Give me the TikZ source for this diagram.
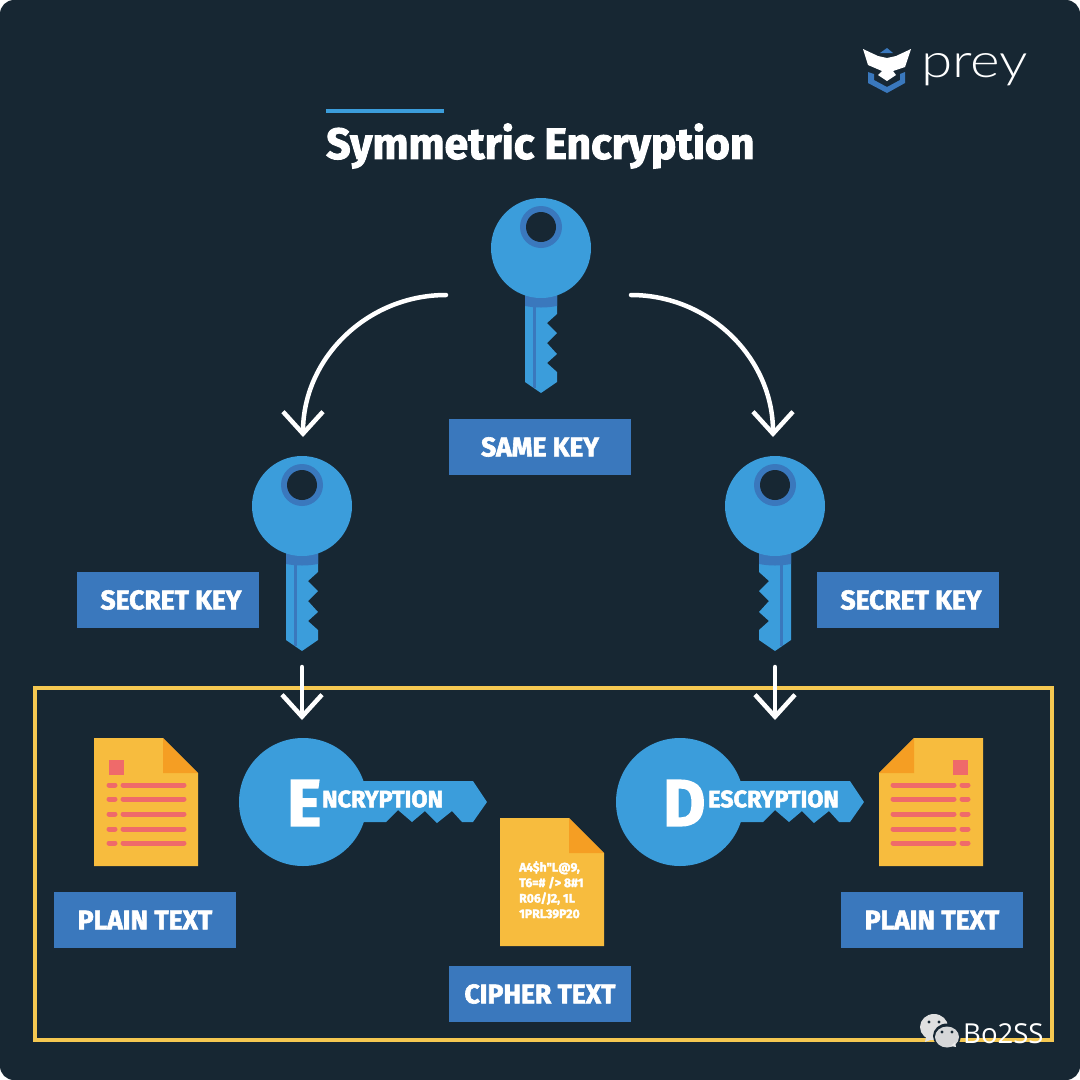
\documentclass[tikz,border=0pt]{standalone}
\usepackage{fontspec}
\usetikzlibrary{arrows.meta}
\setmainfont{Fira Sans}
\newfontfamily\headfont[FakeStretch=0.98,FakeBold=2.2]{Fira Sans Bold}
\newfontfamily\thinfont{Lato Light}
\newfontfamily\markfont{Open Sans}
\definecolor{bgdark}{HTML}{172733}
\definecolor{keyblue}{HTML}{3B9DDB}
\definecolor{boxblue}{HTML}{3A78BD}
\definecolor{pagegold}{HTML}{F7BC3E}
\definecolor{foldgold}{HTML}{F59E23}
\definecolor{framegold}{HTML}{F5C851}
\definecolor{linered}{HTML}{EF6A6A}
\tikzset{
  labelbox/.style={fill=boxblue,text=white,inner sep=0pt,minimum width=182pt,minimum height=56pt,
    font=\headfont\fontsize{27}{27}\selectfont},
  flow/.style={draw=white,line width=4.5pt,line cap=round,-{Straight Barb[length=22pt,width=40pt]}},
  redline/.style={draw=linered,line width=5pt,line cap=round},
  upkey/.pic={
    \fill[keyblue] (-16,40) -- (16,40) -- (16,66) -- (6,75) -- (16,85) -- (6,95) -- (16,106) -- (6,115)
      -- (16,124) -- (16,134) -- (0,145) -- (-16,134) -- cycle;
    \fill[boxblue] (-8,50) rectangle (-5,140);
    \fill[boxblue] (-16,40) -- (16,40) -- (16,58) .. controls (5,60) and (-5,60) .. (-16,58) -- cycle;
    \fill[keyblue] (0,0) circle (50);
    \fill[boxblue] (0,-21) circle (21);
    \fill[bgdark] (0,-21) circle (15);
  },
  sidekey/.pic={
    \fill[keyblue] (0,0) circle (64);
    \fill[keyblue] (50,-21) -- (170,-21) -- (184,0) -- (170,20) -- (159,20) -- (149,9) -- (134,21)
      -- (122,9) -- (109,20) -- (95,8) -- (83,20) -- (50,20) -- cycle;
  },
  docpage/.pic={
    \fill[pagegold] (-52,-64) -- (17,-64) -- (52,-29) -- (52,64) -- (-52,64) -- cycle;
    \fill[foldgold] (17,-64) -- (52,-29) -- (17,-29) -- cycle;
  },
  doclines/.pic={
    \fill[linered] (-37,-42) rectangle (-22,-27);
    \foreach \y in {-17,-3,12,27,41}
    {
      \draw[redline] (-37,\y) -- (-31,\y);
      \draw[redline] (-23,\y) -- (38,\y);
    }
  }
}
\begin{document}
\begin{tikzpicture}[x=1pt,y=-1pt]
  \useasboundingbox (0,0) rectangle (1080,1080);
  \fill[white] (0,0) rectangle (1080,1080);
  \fill[bgdark,rounded corners=14pt] (0,0) rectangle (1080,1080);
  % logo
  \fill[white] (863,49) -- (878,56) -- (887,58) -- (896,56) -- (911,49) -- (905,67) -- (893,71) -- (896,75)
    -- (887,81) -- (878,75) -- (882,71) -- (868,65) -- cycle;
  \fill[boxblue] (887,48) -- (893,53) -- (880,53) -- cycle;
  \fill[boxblue] (868,72) -- (868,83) -- (887,93) -- (905,83) -- (905,72) -- (900,74) -- (900,80)
    -- (887,87) -- (874,80) -- (874,74) -- cycle;
  \node[inner sep=0pt,anchor=west,text=white] (preyname) at (921,70)
    {\resizebox{107pt}{24pt}{\thinfont prey}};
  % title
  \fill[keyblue] (326,109) rectangle (444,113);
  \node[anchor=west,inner sep=0pt,text=white,font=\headfont\fontsize{43.6}{44}\selectfont] (title) at (326,146)
    {Symmetric Encryption};
  % frame
  \draw[framegold,line width=4pt] (35,688) rectangle (1052,1040);
  % keys
  \pic at (541,248) {upkey};
  \pic at (302,506) {upkey};
  \pic[xscale=-1] at (775,506) {upkey};
  \node[labelbox] (samekey) at (540,447) {\raisebox{-1pt}{SAME KEY}};
  \node[labelbox] (secretl) at (168,600) {\hspace{6pt}\raisebox{-1pt}{SECRET KEY}};
  \node[labelbox] (secretr) at (908,600) {\hspace{6pt}\raisebox{-1pt}{SECRET KEY}};
  % arrows
  \coordinate (samel) at (446,295);
  \coordinate (samer) at (631,295);
  \coordinate (keyl) at (303,437);
  \coordinate (keyr) at (773,437);
  \coordinate (secretlout) at (302,667);
  \coordinate (secretrout) at (775,667);
  \coordinate (encin) at (302,720);
  \coordinate (decin) at (775,720);
  \draw[flow] (samel) to[out=180,in=90] (keyl);
  \draw[flow] (samer) to[out=0,in=90] (keyr);
  \draw[flow] (secretlout) -- (encin);
  \draw[flow] (secretrout) -- (decin);
  % frame contents
  \pic at (146,802) {docpage};
  \pic at (146,802) {doclines};
  \pic[xscale=-1] at (931,802) {docpage};
  \pic[xscale=-1] at (931,802) {doclines};
  \pic at (552,882) {docpage};
  \pic at (303,802) {sidekey};
  \pic at (680,802) {sidekey};
  \node[anchor=west,inner sep=0pt,text=white,font=\headfont\fontsize{66}{66}\selectfont] (ebig) at (287,803) {E};
  \node[anchor=west,inner sep=0pt,text=white,font=\headfont\fontsize{23.8}{25}\selectfont] (encword) at (322,799) {NCRYPTION};
  \node[anchor=west,inner sep=0pt,text=white,font=\headfont\fontsize{66}{66}\selectfont] (dbig) at (663,803) {D};
  \node[anchor=west,inner sep=0pt,text=white,font=\headfont\fontsize{23.8}{25}\selectfont] (decword) at (708,799) {ESCRYPTION};
  \node[anchor=north west,inner sep=0pt,text=white,align=left,font=\headfont\fontsize{12.5}{15.5}\selectfont] (ciphertxt) at (519,861)
    {A4\$h"L@9,\\T6=\# /> 8\#1\\R06/J2, 1L\\1PRL39P20};
  \node[labelbox] (plainl) at (145,920) {\raisebox{-1pt}{PLAIN TEXT}};
  \node[labelbox] (plainr) at (932,920) {\raisebox{-1pt}{PLAIN TEXT}};
  \node[labelbox] (cipher) at (540,994) {\raisebox{-1pt}{CIPHER TEXT}};
  % watermark
  \fill[white!88!black] (934,1027) ellipse (14 and 13);
  \fill[white!88!black] (926,1037) -- (925,1042) -- (933,1039) -- cycle;
  \fill[bgdark] (929,1022) circle (1.6);
  \fill[bgdark] (939,1022) circle (1.6);
  \fill[bgdark] (947,1036) ellipse (14 and 12.5);
  \fill[white!92!black,opacity=.9] (947,1037) ellipse (12 and 10.5);
  \fill[white!92!black] (951,1046) -- (956,1047) -- (955,1042) -- cycle;
  \fill[bgdark] (942,1032) circle (1.6);
  \fill[bgdark] (952,1032) circle (1.6);
  \node[anchor=west,inner sep=0pt,text=white,font=\markfont\fontsize{27.5}{27.5}\selectfont] (bosign) at (963,1034) {Bo2SS};
\end{tikzpicture}
\end{document}
